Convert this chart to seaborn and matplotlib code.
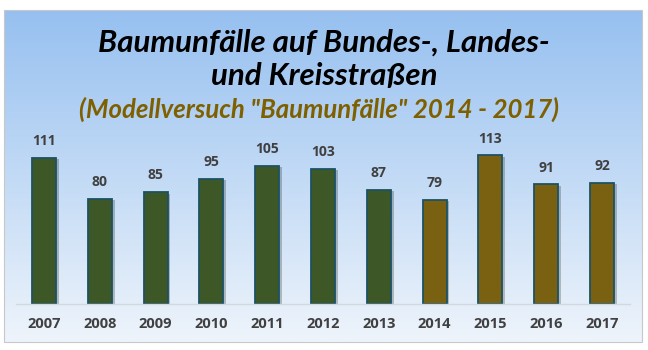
import numpy as np
import pandas as pd
import matplotlib
matplotlib.use("Agg")
import matplotlib.pyplot as plt
import matplotlib.patheffects as pe
from matplotlib.patches import Rectangle
import seaborn as sns

years = ["2007", "2008", "2009", "2010", "2011", "2012", "2013", "2014", "2015", "2016", "2017"]
values = [111, 80, 85, 95, 105, 103, 87, 79, 113, 91, 92]
groups = ["vorher"] * 7 + ["Modellversuch"] * 4
title_line1 = "Baumunfälle auf Bundes-, Landes-"
title_line2 = "und Kreisstraßen"
subtitle = '(Modellversuch "Baumunfälle" 2014 - 2017)'

df = pd.DataFrame({"Jahr": years, "Anzahl": values, "Gruppe": groups})

sns.set_theme(style="white")
plt.rcParams["font.family"] = ["Lato", "DejaVu Sans"]

W, H = 648, 350
fig = plt.figure(figsize=(W / 100, H / 100), dpi=100)
fig.patch.set_facecolor("white")

# gradient background
bg = fig.add_axes([4 / W, 1 - 342 / H, 638 / W, 332 / H])
top = np.array([150, 192, 240]) / 255
bot = np.array([238, 244, 251]) / 255
t = np.linspace(0, 1, 256)[:, None]
grad = top[None, :] * (1 - t) + bot[None, :] * t
bg.imshow(grad[:, None, :], aspect="auto", extent=[0, 1, 0, 1])
bg.set_axis_off()
fig.add_artist(Rectangle((4 / W, 1 - 342 / H), 638 / W, 332 / H, transform=fig.transFigure,
                         fill=False, edgecolor="#c8c8c8", linewidth=0.8))

ax = fig.add_axes([16 / W, 1 - 304 / H, 614 / W, (304 - 130.4) / H])
ax.patch.set_alpha(0)
sns.barplot(data=df, x="Jahr", y="Anzahl", hue="Gruppe",
            palette={"vorher": "#3e5f1e", "Modellversuch": "#8b6900"},
            dodge=False, width=0.43, legend=False, ax=ax,
            edgecolor="#1c5264", linewidth=1.3)
for p in ax.patches:
    p.set_path_effects([pe.SimplePatchShadow(offset=(2, -1), alpha=0.25), pe.Normal()])
ax.set_ylim(0, 132)
ax.set_xlim(-0.5, len(years) - 0.5)
for i, v in enumerate(values):
    ax.annotate(str(v), (i, v), xytext=(0, 7), textcoords="offset points",
                ha="center", va="bottom", fontsize=10, fontweight="bold", color="#404040",
                family=["Open Sans", "DejaVu Sans"])
ax.set_xlabel("")
ax.set_ylabel("")
ax.set_yticks([])
ax.tick_params(axis="x", length=0, pad=9)
for lab in ax.get_xticklabels():
    lab.set_fontweight("bold")
    lab.set_color("#404040")
    lab.set_fontsize(10.5)
    lab.set_family(["Open Sans", "DejaVu Sans"])
for s in ["top", "right", "left"]:
    ax.spines[s].set_visible(False)
ax.spines["bottom"].set_color("#d0d8e0")
ax.spines["bottom"].set_linewidth(1)

fig.text(324 / W, 1 - 43 / H, title_line1, ha="center", va="center", fontsize=22.5,
         fontweight="bold", style="italic", color="black")
fig.text(324 / W, 1 - 76 / H, title_line2, ha="center", va="center", fontsize=22.5,
         fontweight="bold", style="italic", color="black")
fig.text(319 / W, 1 - 109 / H, subtitle, ha="center", va="center", fontsize=18.5,
         fontweight="bold", style="italic", color="#7f6000")

fig.savefig("out.png", dpi=100)
